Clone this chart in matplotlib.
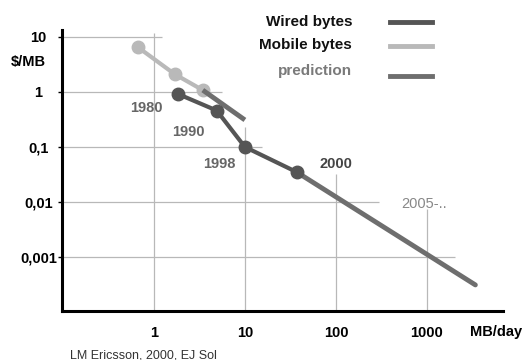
import matplotlib
matplotlib.use("Agg")
import matplotlib.pyplot as plt
from matplotlib.lines import Line2D

plt.rcParams['font.family'] = ['Liberation Sans', 'DejaVu Sans']

# Cost per MB vs. usage (log-log)
mobile_x = [0.67, 1.7, 3.45]
mobile_y = [6.5, 2.1, 1.08]
mobile_pred_x = [3.45, 10]
mobile_pred_y = [1.08, 0.31]

wired_x = [1.84, 4.9, 10, 37]
wired_y = [0.92, 0.46, 0.1, 0.035]
wired_pred_x = [37, 3400]
wired_pred_y = [0.035, 0.00031]

years = ["1980", "1990", "1998", "2000", "2005-.."]
year_x = [0.82, 2.4, 5.3, 100, 920]
year_y = [0.52, 0.19, 0.05, 0.048, 0.0093]

y_ticks = [10, 1, 0.1, 0.01, 0.001]
y_labels = ["10", "1", "0,1", "0,01", "0,001"]
x_ticks = [1, 10, 100, 1000]
x_labels = ["1", "10", "100", "1000"]

# partial grid (staircase) extents
hgrid_end = [1.22, 5.6, 15.4, 300, 2040]
vgrid_top = [12, 0.23, 0.032, 0.0074]

W, H = 529, 360
fig = plt.figure(figsize=(W / 100, H / 100), dpi=100)
ax = fig.add_axes([62 / W, 1 - 311 / H, (503 - 62) / W, (311 - 30) / H])
ax.set_xscale('log')
ax.set_yscale('log')
ax.set_xlim(0.098, 6840)
ax.set_ylim(1.04e-4, 13.4)

gc = '#b8b8b8'
for y, xe in zip(y_ticks, hgrid_end):
    ax.hlines(y, 0.098, xe, color=gc, lw=0.9, zorder=1)
for x, yt in zip(x_ticks, vgrid_top):
    ax.vlines(x, 1.04e-4, yt, color=gc, lw=0.9, zorder=1)

c_wired = '#555555'
c_mobile = '#b9b9b9'
c_pred = '#6e6e6e'

ax.plot(mobile_x, mobile_y, color=c_mobile, lw=3, marker='o', ms=9,
        solid_capstyle='butt', zorder=3)
ax.plot(mobile_pred_x, mobile_pred_y, color=c_pred, lw=3.5,
        solid_capstyle='butt', zorder=4)
ax.plot(wired_pred_x, wired_pred_y, color=c_pred, lw=3.5,
        solid_capstyle='round', zorder=4)
ax.plot(wired_x, wired_y, color=c_wired, lw=3, marker='o', ms=9,
        solid_capstyle='butt', zorder=5)

for lab, x, y in zip(years, year_x, year_y):
    last = lab.startswith("2005")
    ax.text(x, y, lab, fontsize=10.5, ha='center', va='center',
            color='#888888' if last else ('#444444' if lab == "2000" else '#666666'),
            fontweight='normal' if last else 'bold', zorder=6)

for s in ['top', 'right']:
    ax.spines[s].set_visible(False)
ax.spines['left'].set_linewidth(2.2)
ax.spines['bottom'].set_linewidth(2.2)

ax.set_yticks(y_ticks)
ax.set_yticklabels(y_labels)
ax.minorticks_off()
ax.set_xticks(x_ticks)
ax.set_xticklabels(x_labels)
ax.tick_params(axis='y', length=3, width=1, pad=14, labelsize=10.5)
ax.tick_params(axis='x', length=0, pad=11, labelsize=10.5)
for lab in ax.get_yticklabels():
    lab.set_ha('center')
    lab.set_fontweight('bold')
for lab in ax.get_xticklabels():
    lab.set_fontweight('bold')

fig.text(28 / W, 1 - 62 / H, "$/MB", fontsize=10.5, fontweight='bold',
         ha='center', va='center')
fig.text(470 / W, 1 - 332 / H, "MB/day", fontsize=10.5, fontweight='bold',
         ha='left', va='center')
fig.text(70 / W, 1 - 355 / H, "LM Ericsson, 2000, EJ Sol", fontsize=9,
         color='#333333', ha='left', va='center')

# legend: text right-aligned, sample line on the right
legend = [("Wired bytes", '#111111', c_wired, 22, 22),
          ("Mobile bytes", '#111111', c_mobile, 45, 46),
          ("prediction", '#7a7a7a', c_pred, 71, 76)]
for name, tc, lc, ty, ly in legend:
    fig.text(352 / W, 1 - ty / H, name, fontsize=11, fontweight='bold',
             color=tc, ha='right', va='center')
    fig.add_artist(Line2D([390 / W, 432 / W], [1 - ly / H, 1 - ly / H],
                          color=lc, lw=3.5, transform=fig.transFigure))

fig.savefig("out.png", dpi=100)
